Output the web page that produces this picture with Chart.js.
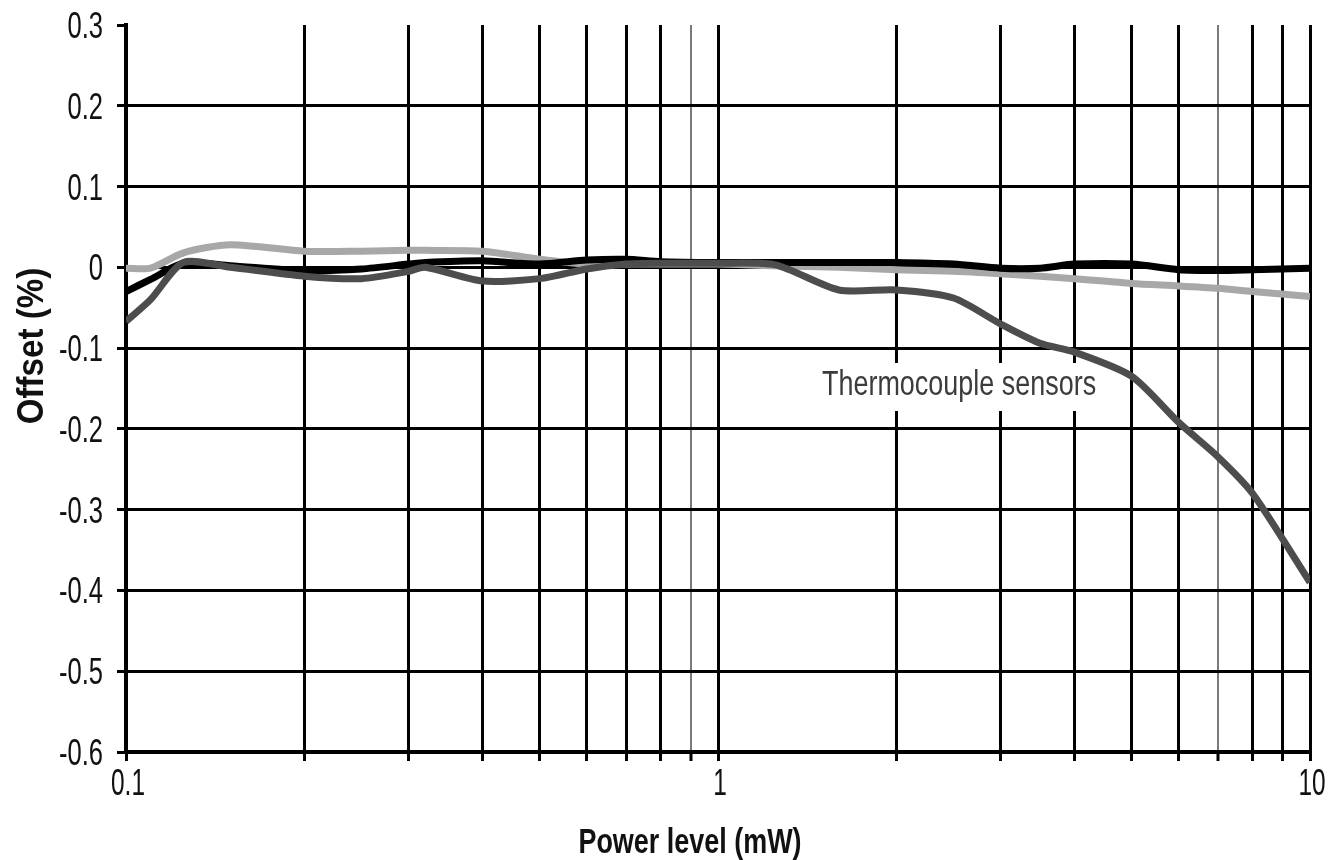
<!DOCTYPE html>
<html>
<head>
<meta charset="utf-8">
<script src="https://cdn.jsdelivr.net/npm/chart.js@4/dist/chart.umd.min.js"></script>
<style>
    html, body { margin: 0; padding: 0; background: #fff; }
    #wrap { width: 1328px; height: 860px; }
</style>
</head>
<body>
<div id="wrap"><canvas id="offsetChart"></canvas></div>
<script>
// 数据：功率 (mW) 与三条偏移曲线 (%)
const power = [0.1, 0.11, 0.125, 0.15, 0.2, 0.25, 0.3, 0.32, 0.4, 0.5, 0.6, 0.7, 0.8, 1,
    1.25, 1.6, 2, 2.5, 3, 3.5, 4, 5, 6, 7, 8, 10];
const lightSeries = [-0.001, -0.001, 0.018, 0.028, 0.02, 0.02, 0.021, 0.021, 0.02, 0.01, 0.004, 0.004, 0.004, 0.004,
    0.002, 0.0, -0.003, -0.005, -0.008, -0.011, -0.014, -0.02, -0.023, -0.026, -0.03, -0.036];
const blackSeries = [-0.03, -0.015, 0.005, 0.002, -0.004, -0.002, 0.004, 0.006, 0.008, 0.004, 0.009, 0.01, 0.007, 0.006,
    0.006, 0.006, 0.006, 0.004, -0.001, -0.001, 0.004, 0.004, -0.003, -0.004, -0.003, -0.001];
const thermoSeries = [-0.067, -0.04, 0.006, 0.0, -0.011, -0.014, -0.005, 0.0, -0.017, -0.014, -0.002, 0.004, 0.005, 0.005,
    0.003, -0.028, -0.028, -0.038, -0.07, -0.094, -0.105, -0.135, -0.192, -0.235, -0.28, -0.39];
const xGridValues = [0.1, 0.2, 0.3, 0.4, 0.5, 0.6, 0.7, 0.8, 0.9, 1, 2, 3, 4, 5, 6, 7, 8, 9, 10];
const xLabels = [0.1, 1, 10];
const yTicks = [0.3, 0.2, 0.1, 0, -0.1, -0.2, -0.3, -0.4, -0.5, -0.6];
const annotationText = 'Thermocouple sensors';

const toPoints = vals => power.map((p, i) => ({ x: p, y: vals[i] }));
const isFaint = v => Math.abs(v - 0.9) < 1e-6 || Math.abs(v - 7) < 1e-6;

// 压缩字体绘制
function drawNarrow(ctx, text, x, y, font, sx, align) {
    ctx.save();
    ctx.translate(x, y);
    ctx.scale(sx, 1);
    ctx.font = font;
    ctx.textAlign = align;
    ctx.textBaseline = 'alphabetic';
    ctx.fillText(text, 0, 0);
    ctx.restore();
}

const textPlugin = {
    id: 'narrowText',
    beforeDatasetsDraw(chart) {
        const ctx = chart.ctx;
        // 注释背景与文字
        ctx.save();
        ctx.fillStyle = '#fff';
        ctx.fillRect(812, 363, 296, 48);
        ctx.fillStyle = '#3c3c3c';
        drawNarrow(ctx, annotationText, 822, 395, '35px "Liberation Sans", Arial, sans-serif', 0.77, 'left');
        ctx.restore();
    },
    afterDraw(chart) {
        const ctx = chart.ctx;
        const xs = chart.scales.x, ys = chart.scales.y;
        ctx.save();
        ctx.fillStyle = '#111';
        yTicks.forEach(v => {
            const py = ys.getPixelForValue(v);
            const label = v === 0 ? '0' : v.toFixed(1);
            drawNarrow(ctx, label, 103, py + 13, '37px "Liberation Sans", Arial, sans-serif', 0.69, 'right');
        });
        xLabels.forEach(v => {
            const px = xs.getPixelForValue(v);
            drawNarrow(ctx, String(v), px + 2, 795, '37px "Liberation Sans", Arial, sans-serif', 0.66, 'center');
        });
        drawNarrow(ctx, 'Power level (mW)', 690, 853, 'bold 35px "Liberation Sans", Arial, sans-serif', 0.77, 'center');
        ctx.save();
        ctx.translate(43, 346);
        ctx.rotate(-Math.PI / 2);
        drawNarrow(ctx, 'Offset (%)', 0, 0, 'bold 36px "Liberation Sans", Arial, sans-serif', 0.92, 'center');
        ctx.restore();
        ctx.restore();
    }
};

const ctx = document.getElementById('offsetChart');
new Chart(ctx, {
    type: 'line',
    data: {
        datasets: [{
            label: 'Thermocouple sensors',
            data: toPoints(thermoSeries),
            borderColor: '#4d4d4d',
            borderWidth: 7,
            order: 1
        }, {
            label: 'Black',
            data: toPoints(blackSeries),
            borderColor: '#000000',
            borderWidth: 7,
            order: 2
        }, {
            label: 'Light',
            data: toPoints(lightSeries),
            borderColor: '#a8a8a8',
            borderWidth: 7,
            order: 3
        }]
    },
    options: {
        responsive: true,
        maintainAspectRatio: false,
        animation: false,
        layout: {
            padding: { top: 25, right: 18, left: 0, bottom: 0 }
        },
        elements: {
            point: { radius: 0 },
            line: { tension: 0.25, borderCapStyle: 'butt', borderJoinStyle: 'round' }
        },
        plugins: {
            legend: { display: false },
            tooltip: { enabled: false }
        },
        scales: {
            x: {
                type: 'logarithmic',
                min: 0.1,
                max: 10,
                afterBuildTicks: s => { s.ticks = xGridValues.map(v => ({ value: v })); },
                afterFit: s => { s.height = 108; },
                border: { display: true, color: '#000', width: 4 },
                grid: {
                    color: c => (c.tick && isFaint(c.tick.value)) ? '#7a7a7a' : '#000',
                    lineWidth: c => (c.tick && isFaint(c.tick.value)) ? 2 : 3,
                    tickLength: 9,
                    tickColor: '#000',
                    tickWidth: 3
                },
                ticks: {
                    autoSkip: false,
                    color: 'rgba(0,0,0,0)',
                    maxRotation: 0,
                    callback: v => ''
                }
            },
            y: {
                min: -0.6,
                max: 0.3,
                afterFit: s => { s.width = 126; },
                border: { display: true, color: '#000', width: 4 },
                grid: {
                    color: c => (c.tick && Math.abs(c.tick.value - 0.3) < 1e-6) ? 'rgba(0,0,0,0)' : '#000',
                    lineWidth: 3,
                    tickLength: 9,
                    tickColor: '#000',
                    tickWidth: 3
                },
                ticks: {
                    stepSize: 0.1,
                    color: 'rgba(0,0,0,0)',
                    callback: v => ''
                }
            }
        }
    },
    plugins: [textPlugin]
});
</script>
</body>
</html>
